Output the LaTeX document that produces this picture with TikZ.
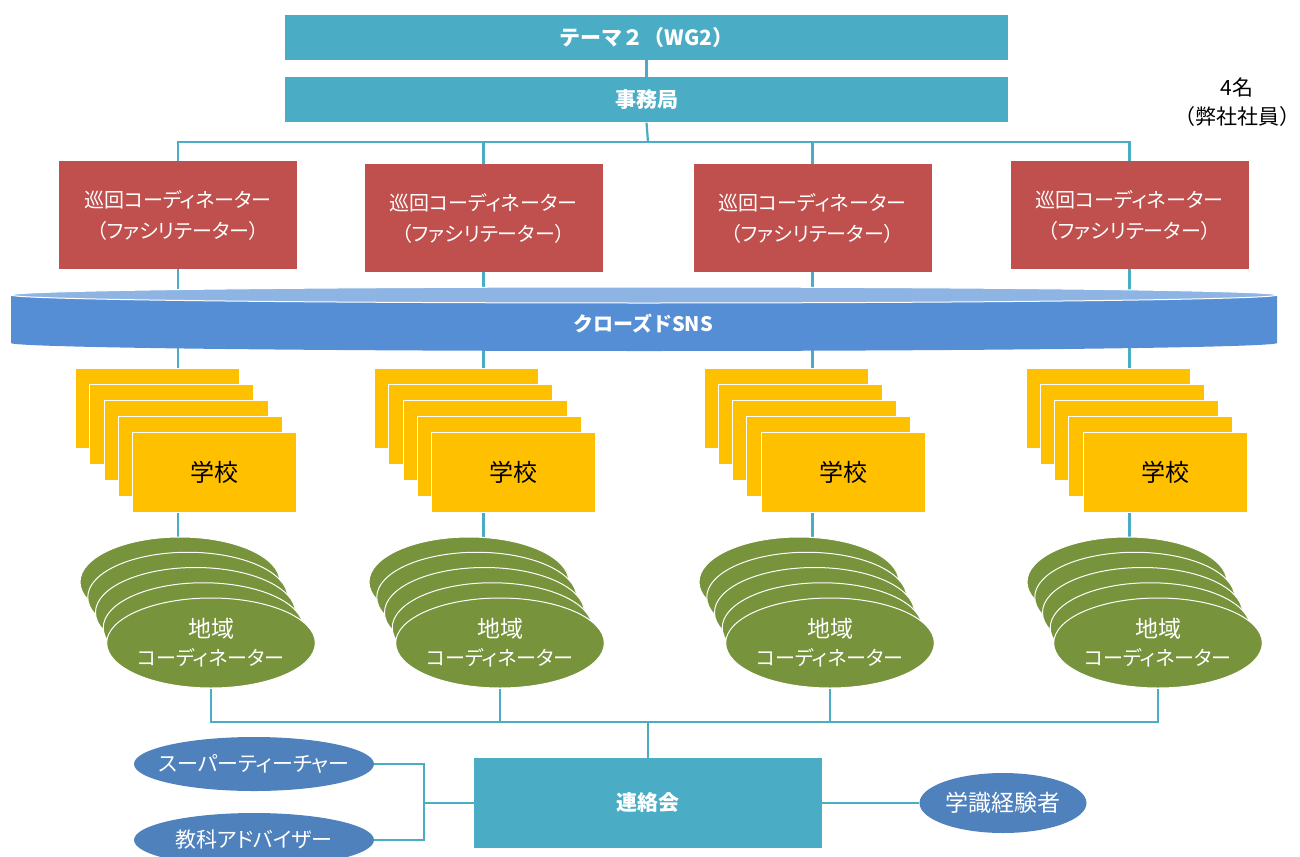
\documentclass[tikz,border=0pt]{standalone}
\usepackage{fontspec}
\usetikzlibrary{shapes.geometric,backgrounds}
\newfontfamily\jp[RawFeature={+palt}]{Noto Sans CJK JP}
\newfontfamily\jpn{Noto Sans CJK JP}
\definecolor{cteal}{HTML}{4BACC6}
\definecolor{cred}{HTML}{C0504D}
\definecolor{csns}{HTML}{558ED5}
\definecolor{csnstop}{HTML}{8EB4E3}
\definecolor{cyel}{HTML}{FFC000}
\definecolor{cgreen}{HTML}{77933C}
\definecolor{cblue}{HTML}{4F81BD}
\tikzset{
  conn/.style={draw=cteal, line width=2.2pt},
  tealbox/.style={rectangle, fill=cteal, text=white, inner sep=0pt, minimum width=723pt, minimum height=45pt, font=\jpn\bfseries\fontsize{21}{25}\selectfont},
  redbox/.style={rectangle, fill=cred, text=white, inner sep=0pt, minimum width=238pt, minimum height=108pt, align=center, font=\jp\fontsize{20}{31}\selectfont},
  school/.style={rectangle, fill=cyel, draw=white, line width=0.8pt, inner sep=0pt, minimum width=164pt, minimum height=80pt, font=\jpn\fontsize{24}{28}\selectfont},
  region/.style={ellipse, fill=cgreen, draw=white, line width=1pt, inner sep=0pt, minimum width=200pt, minimum height=90pt, align=center, text=white, font=\jp\fontsize{20}{28}\selectfont},
  member/.style={ellipse, fill=cblue, text=white, inner sep=0pt, font=\jp\fontsize{21}{25}\selectfont},
  note/.style={align=center, inner sep=0pt, font=\jpn\fontsize{21}{29}\selectfont}
}
\begin{document}
\begin{tikzpicture}[x=1pt,y=-1pt]
\useasboundingbox (0,0) rectangle (1300,856);
% top boxes
\node[tealbox] (wg) at (646.5,37.5) {テーマ２（WG2）};
\node[tealbox] (jim) at (646.5,100) {事務局};
\coordinate (bus1) at (648,142);
\node[note] (staff) at (1237,102) {4名\\（弊社社員）};
% red boxes
\node[redbox] (r1) at (178,215) {巡回コーディネーター\\（ファシリテーター）};
\node[redbox] (r2) at (483.5,218) {巡回コーディネーター\\（ファシリテーター）};
\node[redbox] (r3) at (812.5,218) {巡回コーディネーター\\（ファシリテーター）};
\node[redbox] (r4) at (1129.5,215) {巡回コーディネーター\\（ファシリテーター）};
% schools
\foreach \i/\x in {1/214.5, 2/513.5, 3/843, 4/1165} {
  \foreach \k in {0,...,3} {
    \node[school] (s\i-\k) at ({\x-57+14.25*\k},{472-64+16*\k}) {};
  }
  \node[school] (s\i-4) at (\x,472) {学校};
}
% regional coordinators
\foreach \i/\x in {1/211, 2/500, 3/830, 4/1158} {
  \foreach \k in {0,...,3} {
    \node[region] (e\i-\k) at ({\x-31+7.75*\k},{582+15.25*\k}) {};
  }
  \node[region] (e\i-4) at (\x,643) {{\fontsize{23}{28}\selectfont 地域}\\コーディネーター};
}
% SNS band
\fill[csns] (11,295) -- (11,343) arc[start angle=180, end angle=0, x radius=633, y radius=8] -- (1277,295) -- cycle;
\filldraw[fill=csnstop, draw=white, line width=1pt] (644,295) ellipse [x radius=633, y radius=8];
\node[inner sep=0pt, minimum width=1266pt, minimum height=56pt, text=white, font=\jpn\bfseries\fontsize{20}{24}\selectfont] (sns) at (643,324) {クローズドSNS};
% bottom
\node[rectangle, fill=cteal, text=white, inner sep=0pt, minimum width=348pt, minimum height=90pt, font=\jpn\bfseries\fontsize{21}{25}\selectfont] (rk) at (648,803) {連絡会};
\node[member, minimum width=240pt, minimum height=54pt] (st) at (254,764) {\makebox[0pt]{スーパーティーチャー}};
\node[member, minimum width=240pt, minimum height=54pt] (ka) at (254,840) {\makebox[0pt]{教科アドバイザー}};
\node[member, minimum width=167pt, minimum height=60pt, font=\jpn\fontsize{23}{27}\selectfont] (gk) at (1003,803) {\makebox[0pt]{学識経験者}};
\coordinate (b2) at (648,722);
\coordinate (jn) at (424,803);
% connectors
\begin{pgfonlayer}{background}
\draw[conn] (wg.south) -- (jim.north);
\draw[conn] (jim.south) -- (bus1);
\foreach \i in {1,...,4} {
  \draw[conn] (bus1) -| (r\i.north);
  \draw[conn] (r\i.south) -- (r\i.south |- s\i-0.north);
  \draw[conn] (r\i.south |- s\i-4.south) -- (r\i.south |- e\i-0.north);
  \draw[conn] (e\i-4.south) |- (b2);
}
\draw[conn] (b2) -- (rk.north);
\draw[conn] (st.east) -| (jn) |- (ka.east);
\draw[conn] (rk.west) -- (jn);
\draw[conn] (rk.east) -- (gk.west);
\end{pgfonlayer}
\end{tikzpicture}
\end{document}
